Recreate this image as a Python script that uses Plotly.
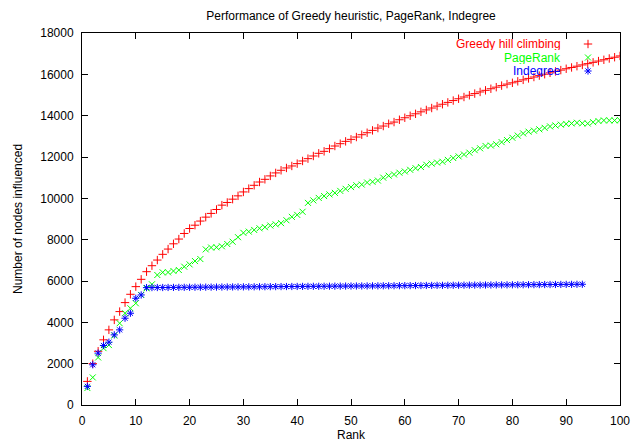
import plotly.graph_objects as go

# ---------------- data ----------------
greedy_rank = list(range(1, 101))
greedy = [1142, 2000, 2600, 3153, 3636, 4118, 4520, 4955, 5357, 5727,
          6081, 6451, 6741, 7013, 7290, 7545, 7800, 8030, 8300, 8540,
          8700, 8900, 9090, 9270, 9460, 9670, 9800, 9960, 10120, 10310,
          10470, 10630, 10790, 10920, 11085, 11230, 11357, 11470, 11566, 11679,
          11808, 11920, 12049, 12178, 12274, 12403, 12532, 12644, 12757, 12853,
          12966, 13078, 13175, 13288, 13400, 13497, 13609, 13690, 13802, 13899,
          13995, 14090, 14185, 14278, 14370, 14462, 14553, 14643, 14731, 14818,
          14903, 14986, 15068, 15148, 15226, 15303, 15379, 15454, 15527, 15590,
          15662, 15732, 15802, 15870, 15938, 16006, 16073, 16140, 16205, 16270,
          16332, 16394, 16456, 16518, 16580, 16642, 16704, 16766, 16828, 16890]

pagerank_rank = list(range(1, 101))
pagerank = [820, 1335, 2300, 2751, 2900, 3362, 3957, 4440, 4681, 4922,
            5325, 5646, 5840, 6290, 6418, 6418, 6483, 6531, 6692, 6804,
            6965, 7062, 7530, 7620, 7630, 7680, 7790, 7900, 8120, 8330,
            8390, 8470, 8550, 8605, 8685, 8740, 8800, 8940, 9105, 9200,
            9350, 9780, 9900, 10020, 10110, 10190, 10265, 10360, 10460, 10545,
            10630, 10667, 10765, 10800, 10860, 11000, 11095, 11155, 11240, 11300,
            11380, 11460, 11515, 11625, 11680, 11730, 11770, 11860, 11950, 12030,
            12120, 12210, 12330, 12420, 12535, 12555, 12615, 12720, 12820, 12930,
            13035, 13140, 13225, 13275, 13340, 13410, 13480, 13525, 13565, 13600,
            13625, 13658, 13630, 13620, 13685, 13740, 13770, 13770, 13770, 13780]

indegree_rank = list(range(1, 94))
indegree = [901, 1946, 2510, 2880, 3040, 3394, 3636, 4199, 4440, 5164,
            5325, 5680, 5682, 5684, 5685, 5687, 5690, 5692, 5694, 5696,
            5698, 5700, 5702, 5704, 5706, 5708, 5710, 5712, 5714, 5716,
            5718, 5720, 5722, 5724, 5726, 5728, 5730, 5732, 5734, 5736,
            5738, 5740, 5742, 5744, 5746, 5748, 5750, 5752, 5754, 5756,
            5758, 5760, 5762, 5764, 5766, 5768, 5770, 5772, 5774, 5776,
            5778, 5780, 5782, 5784, 5786, 5788, 5790, 5792, 5794, 5796,
            5798, 5800, 5802, 5804, 5806, 5808, 5810, 5812, 5814, 5816,
            5818, 5820, 5822, 5824, 5826, 5828, 5830, 5832, 5834, 5836,
            5838, 5840, 5842]

series_names = ["Greedy hill climbing", "PageRank", "Indegree"]
x_ticks = [0, 10, 20, 30, 40, 50, 60, 70, 80, 90, 100]
y_ticks = [0, 2000, 4000, 6000, 8000, 10000, 12000, 14000, 16000, 18000]

# ---------------- styling ----------------
RED, GREEN, BLUE = "#ff0000", "#00ff00", "#0000ff"
FONT = "Liberation Sans, Arial, Helvetica, sans-serif"
colors = [RED, GREEN, BLUE]
symbols = ["cross-thin", "x-thin", "asterisk"]

W, H = 633, 442
L, R, T, B = 82, 13, 33, 37
plot_w, plot_h = W - L - R, H - T - B

fig = go.Figure()
data = [(greedy_rank, greedy), (pagerank_rank, pagerank), (indegree_rank, indegree)]
for (xs, ys), name, c, s in zip(data, series_names, colors, symbols):
    fig.add_trace(go.Scatter(
        x=xs, y=ys, mode="markers", name=name, showlegend=False,
        marker=dict(symbol=s, size=6, color=c, line=dict(color=c, width=1)),
    ))

# gnuplot-style key: right-aligned text, sample symbol on the right
key_text_x = 562   # pixel
key_sym_x = 588    # pixel
key_rows = [44, 57.5, 71]  # pixel y of each key row
annotations = []
for name, c, s, py in zip(series_names, colors, symbols, key_rows):
    yp = (H - B - py) / plot_h
    annotations.append(dict(
        x=(key_text_x - L) / plot_w, y=yp, xref="paper", yref="paper",
        xanchor="right", yanchor="middle", showarrow=False, text=name,
        height=12, borderpad=0,
        font=dict(family=FONT, size=12, color=c)))
    fig.add_trace(go.Scatter(
        x=[(key_sym_x - L) / plot_w], y=[yp], xaxis="x2", yaxis="y2",
        mode="markers", showlegend=False, hoverinfo="skip",
        marker=dict(symbol=s, size=6, color=c, line=dict(color=c, width=1))))

# axis titles
annotations.append(dict(x=0.5, y=0, xref="paper", yref="paper", yshift=-30,
                        xanchor="center", yanchor="middle", showarrow=False,
                        text="Rank", font=dict(family=FONT, size=12, color="black")))
annotations.append(dict(x=0, y=0.5, xref="paper", yref="paper", xshift=-64,
                        xanchor="center", yanchor="middle", showarrow=False, textangle=-90,
                        text="Number of nodes influenced",
                        font=dict(family=FONT, size=12, color="black")))

axis_common = dict(showgrid=False, zeroline=False, showline=True, linecolor="black",
                   linewidth=1, mirror="ticks", ticks="inside", ticklen=6,
                   tickwidth=1, tickcolor="black", automargin=False,
                   tickfont=dict(family=FONT, size=12, color="black"))

fig.update_layout(
    width=W, height=H,
    margin=dict(l=L, r=R, t=T, b=B),
    paper_bgcolor="white", plot_bgcolor="white",
    font=dict(family=FONT, size=12, color="black"),
    title=dict(text="Performance of Greedy heuristic, PageRank, Indegree",
               x=(L + plot_w / 2) / W, xanchor="center",
               y=1 - 16 / H, yanchor="middle", yref="container",
               font=dict(family=FONT, size=12, color="black")),
    xaxis=dict(range=[0, 100], tickvals=x_ticks, ticklabelstandoff=5, **axis_common),
    yaxis=dict(range=[0, 18000], tickvals=y_ticks, tickformat="d",
               ticklabelstandoff=5, **axis_common),
    xaxis2=dict(overlaying="x", range=[0, 1], visible=False),
    yaxis2=dict(overlaying="y", range=[0, 1], visible=False),
    annotations=annotations,
    showlegend=False,
)

fig.write_html("out.html")
